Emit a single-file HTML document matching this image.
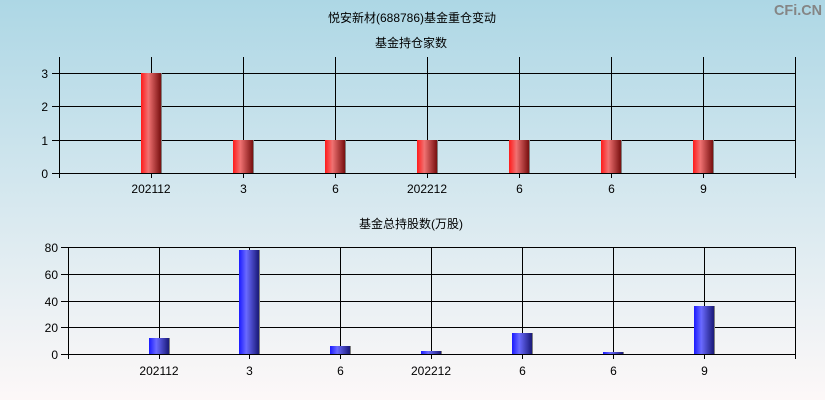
<!DOCTYPE html>
<html>
<head>
<meta charset="utf-8">
<style>
html,body{margin:0;padding:0;}
body{width:825px;height:400px;overflow:hidden;}
svg{display:block;}
text{font-family:"Liberation Sans","Noto Sans CJK SC",sans-serif;font-size:12px;fill:#000;}
</style>
</head>
<body>
<svg width="825" height="400" viewBox="0 0 825 400" xmlns="http://www.w3.org/2000/svg">
<defs>
<linearGradient id="bg" x1="0" y1="0" x2="0" y2="1">
<stop offset="0" stop-color="#add7e5"/>
<stop offset="0.5" stop-color="#d6e8ef"/>
<stop offset="1" stop-color="#fdf8f8"/>
</linearGradient>
<linearGradient id="red" x1="0" y1="0" x2="1" y2="0">
<stop offset="0" stop-color="#ff1a1a"/>
<stop offset="0.35" stop-color="#f07272"/>
<stop offset="0.94" stop-color="#7a1010"/>
<stop offset="0.95" stop-color="#808080"/>
<stop offset="1" stop-color="#808080"/>
</linearGradient>
<linearGradient id="blue" x1="0" y1="0" x2="1" y2="0">
<stop offset="0" stop-color="#1a1aff"/>
<stop offset="0.35" stop-color="#6a6aff"/>
<stop offset="0.94" stop-color="#1a1a7a"/>
<stop offset="0.95" stop-color="#808080"/>
<stop offset="1" stop-color="#808080"/>
</linearGradient>
</defs>
<rect x="0" y="0" width="825" height="400" fill="url(#bg)"/>

<text x="774" y="15" textLength="48" lengthAdjust="spacingAndGlyphs" style="font-size:15px;font-weight:bold;fill:#858585;">CFi.CN</text>

<text x="412" y="22" text-anchor="middle">悦安新材(688786)基金重仓变动</text>
<text x="411" y="47" text-anchor="middle">基金持仓家数</text>

<g stroke="#000" stroke-width="1" fill="none" shape-rendering="crispEdges">
<line x1="52" y1="73.5" x2="795.5" y2="73.5"/>
<line x1="52" y1="106.5" x2="795.5" y2="106.5"/>
<line x1="52" y1="140.5" x2="795.5" y2="140.5"/>
<line x1="52" y1="173.5" x2="795.5" y2="173.5"/>
<line x1="59.5" y1="57" x2="59.5" y2="178"/>
<line x1="151.5" y1="57" x2="151.5" y2="178"/>
<line x1="243.5" y1="57" x2="243.5" y2="178"/>
<line x1="335.5" y1="57" x2="335.5" y2="178"/>
<line x1="427.5" y1="57" x2="427.5" y2="178"/>
<line x1="519.5" y1="57" x2="519.5" y2="178"/>
<line x1="611.5" y1="57" x2="611.5" y2="178"/>
<line x1="703.5" y1="57" x2="703.5" y2="178"/>
<line x1="795.5" y1="57" x2="795.5" y2="178"/>
</g>
<!-- top chart bars -->
<g>
<rect x="141" y="73" width="21" height="100" fill="url(#red)"/>
<rect x="233" y="140" width="21" height="33" fill="url(#red)"/>
<rect x="325" y="140" width="21" height="33" fill="url(#red)"/>
<rect x="417" y="140" width="21" height="33" fill="url(#red)"/>
<rect x="509" y="140" width="21" height="33" fill="url(#red)"/>
<rect x="601" y="140" width="21" height="33" fill="url(#red)"/>
<rect x="693" y="140" width="21" height="33" fill="url(#red)"/>
</g>
<g text-anchor="end">
<text x="48" y="78">3</text>
<text x="48" y="111">2</text>
<text x="48" y="145">1</text>
<text x="48" y="178">0</text>
</g>
<g text-anchor="middle">
<text x="151" y="193">202112</text>
<text x="243.5" y="193">3</text>
<text x="335.5" y="193">6</text>
<text x="427" y="193">202212</text>
<text x="519.5" y="193">6</text>
<text x="611.5" y="193">6</text>
<text x="703.5" y="193">9</text>
</g>

<!-- bottom chart -->
<text x="411" y="228" text-anchor="middle">基金总持股数(万股)</text>
<g stroke="#000" stroke-width="1" fill="none" shape-rendering="crispEdges">
<line x1="61" y1="247.5" x2="795.5" y2="247.5"/>
<line x1="61" y1="274.5" x2="795.5" y2="274.5"/>
<line x1="61" y1="301.5" x2="795.5" y2="301.5"/>
<line x1="61" y1="327.5" x2="795.5" y2="327.5"/>
<line x1="61" y1="354.5" x2="795.5" y2="354.5"/>
<line x1="68.5" y1="247" x2="68.5" y2="359"/>
<line x1="159.5" y1="247" x2="159.5" y2="359"/>
<line x1="249.5" y1="247" x2="249.5" y2="359"/>
<line x1="340.5" y1="247" x2="340.5" y2="359"/>
<line x1="431.5" y1="247" x2="431.5" y2="359"/>
<line x1="522.5" y1="247" x2="522.5" y2="359"/>
<line x1="613.5" y1="247" x2="613.5" y2="359"/>
<line x1="704.5" y1="247" x2="704.5" y2="359"/>
<line x1="795.5" y1="247" x2="795.5" y2="359"/>
</g>
<g>
<rect x="149" y="338" width="21" height="16" fill="url(#blue)"/>
<rect x="239" y="250" width="21" height="104" fill="url(#blue)"/>
<rect x="330" y="346" width="21" height="8" fill="url(#blue)"/>
<rect x="421" y="351" width="21" height="3" fill="url(#blue)"/>
<rect x="512" y="333" width="21" height="21" fill="url(#blue)"/>
<rect x="603" y="352" width="21" height="2" fill="url(#blue)"/>
<rect x="694" y="306" width="21" height="48" fill="url(#blue)"/>
</g>
<g text-anchor="end">
<text x="58" y="252">80</text>
<text x="58" y="279">60</text>
<text x="58" y="306">40</text>
<text x="58" y="332">20</text>
<text x="58" y="359">0</text>
</g>
<g text-anchor="middle">
<text x="159" y="375">202112</text>
<text x="249.5" y="375">3</text>
<text x="340.5" y="375">6</text>
<text x="431" y="375">202212</text>
<text x="522.5" y="375">6</text>
<text x="613.5" y="375">6</text>
<text x="704.5" y="375">9</text>
</g>
</svg>
</body>
</html>
